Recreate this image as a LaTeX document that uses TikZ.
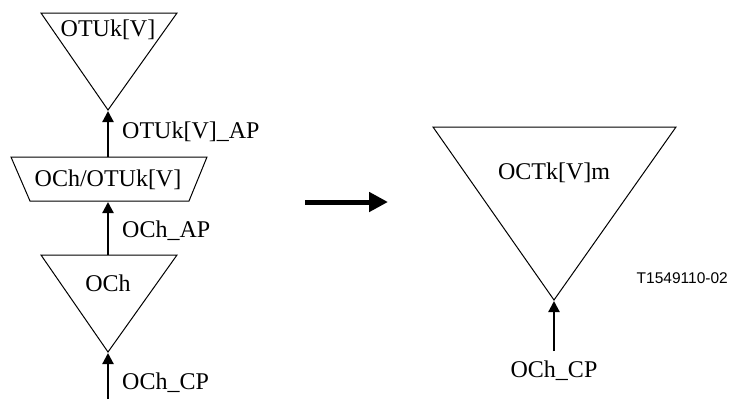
\documentclass[tikz,border=0pt]{standalone}
\usepackage{fontspec}
\setmainfont{Liberation Serif}
\newfontfamily\labelsans{Liberation Sans}
\usetikzlibrary{arrows.meta}
\begin{document}
\begin{tikzpicture}[x=1pt,y=-1pt,
  outline/.style={draw,line width=1pt,line join=miter},
  conn/.style={line width=2.2pt,-{Triangle[length=11pt,width=11pt]}},
  bigarrow/.style={line width=5pt,-{Triangle[length=19pt,width=19pt]}},
  txt/.style={font=\fontsize{24}{24}\selectfont, inner sep=0pt},
  tag/.style={font=\labelsans\fontsize{15.5}{16}\selectfont, inner sep=0pt},
]
\useasboundingbox (0,0) rectangle (730,399);
% top triangle OTUk[V]
\draw[outline] (41,13) -- (177,13) -- (108,110) -- cycle;
\coordinate (t1apex) at (108,111);
\node[txt] (t1) at (108,30) {OTUk[V]};
% trapezoid OCh/OTUk[V]
\draw[outline] (11,157) -- (207,157) -- (189,201) -- (30,201) -- cycle;
\coordinate (trtop) at (108,157);
\coordinate (trbot) at (108,202);
\node[txt] (tr) at (108,180) {OCh/OTUk[V]};
% lower triangle OCh
\draw[outline] (41,255) -- (177,255) -- (108,352) -- cycle;
\coordinate (t2top) at (108,255);
\coordinate (t2apex) at (108,353);
\node[txt] (t2) at (108,283) {OCh};
\coordinate (in1) at (108,399);
% connectors left
\draw[conn] (trtop) -- (t1apex);
\draw[conn] (t2top) -- (trbot);
\draw[conn] (in1) -- (t2apex);
\node[txt,anchor=west] (l1) at (122,132) {OTUk[V]\_AP};
\node[txt,anchor=west] (l2) at (122,231) {OCh\_AP};
\node[txt,anchor=west] (l3) at (122,383) {OCh\_CP};
% big arrow
\coordinate (ba1) at (305,202);
\coordinate (ba2) at (388,202);
\draw[bigarrow] (ba1) -- (ba2);
% right triangle
\draw[outline] (433,127) -- (676,127) -- (554,300) -- cycle;
\coordinate (t3apex) at (554,301);
\node[txt] (t3) at (554,173) {OCTk[V]m};
\coordinate (in3) at (554,351);
\draw[conn] (in3) -- (t3apex);
\node[txt] (l4) at (554,371) {OCh\_CP};
\node[tag,anchor=east] (id) at (728,278) {T1549110-02};
\end{tikzpicture}
\end{document}
